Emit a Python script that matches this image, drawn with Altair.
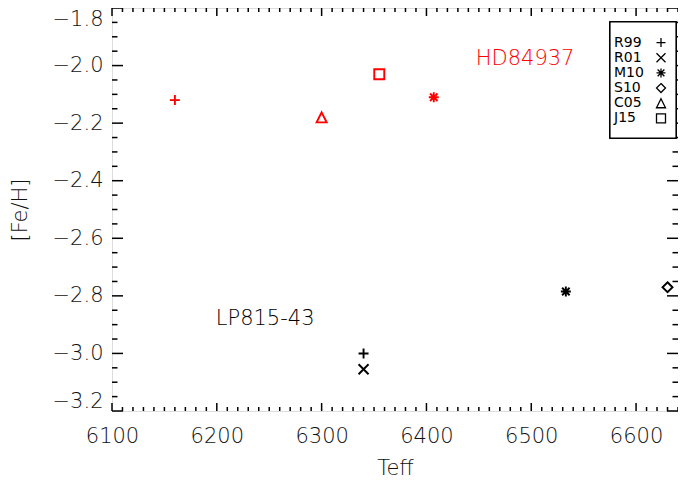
import altair as alt
import pandas as pd

# ---------------- data ----------------
refs = ["R99", "R01", "M10", "S10", "C05", "J15"]

hd_ref = ["R99", "C05", "J15", "M10"]
hd_teff = [6160, 6300, 6355, 6407]
hd_feh = [-2.12, -2.18, -2.03, -2.11]

lp_ref = ["R99", "R01", "M10", "S10"]
lp_teff = [6340, 6340, 6533, 6630]
lp_feh = [-3.00, -3.055, -2.785, -2.77]

stars = ["HD84937", "LP815-43"]
star_colors = ["red", "black"]
ann_teff = [6447, 6199]
ann_feh = [-1.977, -2.88]

x_major = [6100, 6200, 6300, 6400, 6500, 6600]
x_minor = [v for v in range(6100, 6641, 10) if v % 100 != 0]
y_major = [-3.2, -3.0, -2.8, -2.6, -2.4, -2.2, -2.0, -1.8]
y_minor = [round(-3.2 + 0.05 * i, 2) for i in range(29) if i % 4 != 0]

# symbol paths (style)
shape_paths = [
    "M-1,0L1,0M0,-1L0,1",                                   # plus
    "M-1,-1L1,1M-1,1L1,-1",                                 # cross
    "M-1,0L1,0M0,-1L0,1M-0.75,-0.75L0.75,0.75M-0.75,0.75L0.75,-0.75",  # asterisk
    "M0,-1L1,0L0,1L-1,0Z",                                  # diamond
    "M0,-1L1,1L-1,1Z",                                      # triangle
    "M-1,-1L1,-1L1,1L-1,1Z",                                # square
]

W, H = 566, 403
FONT = "DejaVu Sans"
FW = 200
INK = "#111"

pts = pd.DataFrame({
    "teff": hd_teff + lp_teff,
    "feh": hd_feh + lp_feh,
    "ref": hd_ref + lp_ref,
    "star": [stars[0]] * len(hd_ref) + [stars[1]] * len(lp_ref),
})
ann = pd.DataFrame({"teff": ann_teff, "feh": ann_feh, "star": stars})

xs = alt.Scale(domain=[6100, 6640], nice=False, zero=False)
ys = alt.Scale(domain=[-3.2, -1.8], nice=False, zero=False)
color_scale = alt.Scale(domain=stars, range=star_colors)
shape_scale = alt.Scale(domain=refs, range=shape_paths)

X_AXIS = alt.Axis(title="Teff", values=x_major, format="d", ticks=False, tickSize=0,
                  domain=False, grid=False, labelFontSize=21, labelPadding=14,
                  titleFontSize=21, titlePadding=11, labelFont=FONT, titleFont=FONT,
                  labelFontWeight=FW, titleFontWeight=FW,
                  labelColor=INK, titleColor=INK, labelFlush=False)
Y_AXIS = alt.Axis(title="[Fe/H]", values=y_major, format=".1f", ticks=False, tickSize=0,
                  domain=False, grid=False, labelFontSize=21, labelPadding=9,
                  titleFontSize=21, titlePadding=22, labelFont=FONT, titleFont=FONT,
                  labelFontWeight=FW, titleFontWeight=FW,
                  labelColor=INK, titleColor=INK, labelFlush=True)

points = alt.Chart(pts).mark_point(filled=False, size=100, strokeWidth=1.9, opacity=1).encode(
    x=alt.X("teff:Q", scale=xs, axis=X_AXIS),
    y=alt.Y("feh:Q", scale=ys, axis=Y_AXIS),
    color=alt.Color("star:N", scale=color_scale, legend=None),
    shape=alt.Shape("ref:N", scale=shape_scale, legend=None),
)

labels = alt.Chart(ann).mark_text(align="left", baseline="middle", fontSize=21, font=FONT,
                                  fontWeight=FW).encode(
    x=alt.X("teff:Q", scale=xs, axis=X_AXIS),
    y=alt.Y("feh:Q", scale=ys, axis=Y_AXIS),
    text="star:N",
    color=alt.Color("star:N", scale=color_scale, legend=None),
)


def xticks(vals, y0, y1):
    return alt.Chart(pd.DataFrame({"teff": vals})).mark_rule(color="black", strokeWidth=1.5).encode(
        x=alt.X("teff:Q", scale=xs, axis=X_AXIS), y=alt.value(y0), y2=alt.value(y1))


def yticks(vals, x0, x1):
    return alt.Chart(pd.DataFrame({"feh": vals})).mark_rule(color="black", strokeWidth=1.5).encode(
        y=alt.Y("feh:Q", scale=ys, axis=Y_AXIS), x=alt.value(x0), x2=alt.value(x1))


ticks = [
    xticks(x_major, H, H - 8), xticks(x_minor, H, H - 4),
    xticks(x_major, 0, 8), xticks(x_minor, 0, 4),
    yticks(y_major, 0, 11), yticks(y_minor, 0, 5.5),
    yticks(y_major, W, W - 11), yticks(y_minor, W, W - 5.5),
]

main = alt.layer(points, labels, *ticks)

# ---------------- legend ----------------
leg = pd.DataFrame({"ref": refs})
leg_y = alt.Y("ref:N", scale=alt.Scale(domain=refs, range=[27, 118]), axis=None)
leg_box = alt.Chart(leg).mark_rect(fill="white", stroke="black", strokeWidth=1.2).encode(
    x=alt.value(498), x2=alt.value(564), y=alt.value(14), y2=alt.value(130))
leg_text = alt.Chart(leg).mark_text(align="left", baseline="middle", fontSize=14,
                                    font=FONT, color="black").encode(
    x=alt.value(502), y=leg_y, text="ref:N")
leg_sym = alt.Chart(leg).mark_point(filled=False, size=81, strokeWidth=1.3, color="black",
                                    opacity=1).encode(
    x=alt.value(549), y=leg_y, shape=alt.Shape("ref:N", scale=shape_scale, legend=None))
legend = alt.layer(leg_box, leg_text, leg_sym)

chart = alt.layer(main, legend).resolve_scale(y="independent").properties(
    width=W, height=H,
    autosize=alt.AutoSizeParams(type="none"),
    padding={"left": 104, "top": 0, "right": 0, "bottom": 68},
).configure_view(stroke="black", strokeWidth=1.5).configure(background="white")

chart.save("out.html", embed_options={"renderer": "svg", "actions": False})
